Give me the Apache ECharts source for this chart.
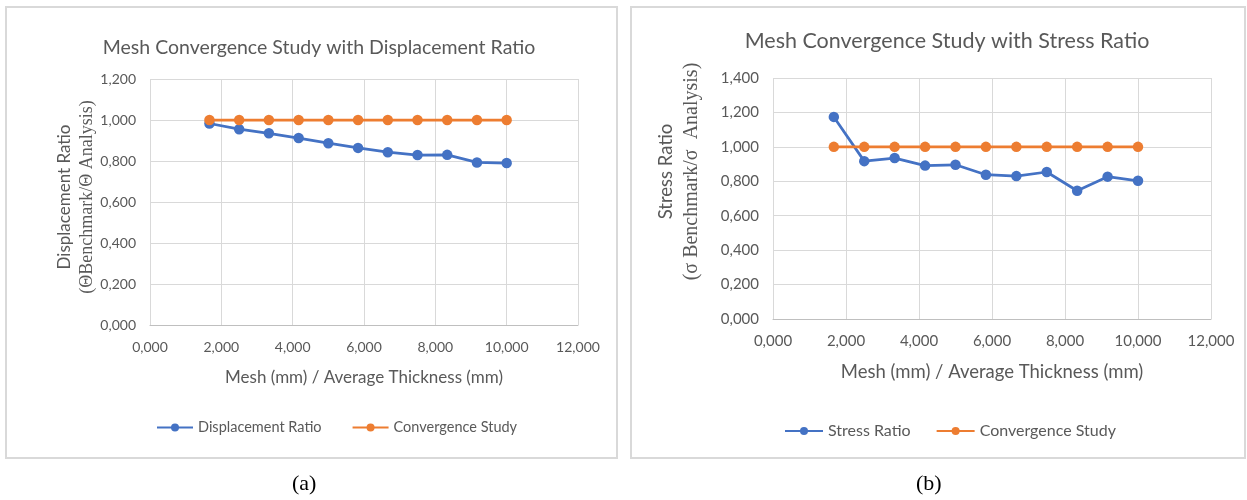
<!DOCTYPE html>
<html>
<head>
<meta charset="utf-8">
<script src="https://cdn.jsdelivr.net/npm/echarts@6/dist/echarts.min.js"></script>
<style>
html,body{margin:0;padding:0;background:#fff;}
#c{width:1247px;height:500px;}
</style>
</head>
<body>
<div id="c"></div>
<script>
// ---- data ----
var meshRatio = [1.667, 2.5, 3.333, 4.167, 5, 5.833, 6.667, 7.5, 8.333, 9.167, 10];
var displacementRatio = [0.983, 0.955, 0.935, 0.912, 0.887, 0.864, 0.843, 0.829, 0.830, 0.793, 0.790];
var stressRatio = [1.174, 0.917, 0.935, 0.891, 0.896, 0.838, 0.830, 0.854, 0.745, 0.827, 0.803];
var convergenceStudy = [1, 1, 1, 1, 1, 1, 1, 1, 1, 1, 1];
var xTicks = [0, 2, 4, 6, 8, 10, 12];
var yTicksA = [0, 0.2, 0.4, 0.6, 0.8, 1.0, 1.2];
var yTicksB = [0, 0.2, 0.4, 0.6, 0.8, 1.0, 1.2, 1.4];

function fmt(v){ return v.toFixed(3).replace('.', ','); }
function pairs(xs, ys){ return xs.map(function(x,i){ return [x, ys[i]]; }); }

var BLUE = '#4472C4', ORANGE = '#ED7D31', TXT = '#595959', GRID = '#d9d9d9';
var SANS = 'Lato, "Open Sans", sans-serif';
var SERIF = '"Liberation Serif", "DejaVu Serif", serif';

function xAxisCfg(gi, fs, nfs, gap){
  return {
    type:'value', gridIndex:gi, min:xTicks[0], max:xTicks[xTicks.length-1], interval:xTicks[1]-xTicks[0],
    name:'Mesh (mm) / Average Thickness (mm)', nameLocation:'middle', nameGap:gap,
    nameTextStyle:{color:TXT, fontSize:nfs, fontFamily:SANS},
    axisLine:{show:true, lineStyle:{color:'#bfbfbf', width:1}},
    axisTick:{show:false},
    axisLabel:{color:TXT, fontSize:fs, fontFamily:SANS, margin:15, formatter:fmt},
    splitLine:{show:true, lineStyle:{color:GRID, width:1}}
  };
}
function yAxisCfg(gi, ticks, l1, l2, gap, pad, fs, fa, fb, lh){
  return {
    type:'value', gridIndex:gi, min:ticks[0], max:ticks[ticks.length-1], interval:ticks[1]-ticks[0],
    name:'{a|' + l1 + '}\n{b|' + l2 + '}', nameLocation:'middle', nameGap:gap,
    nameTextStyle:{color:TXT, padding:pad, rich:{
      a:{fontFamily:SANS, fontSize:fa, color:TXT, lineHeight:lh},
      b:{fontFamily:SERIF, fontSize:fb, color:TXT, lineHeight:lh}
    }},
    axisLine:{show:false}, axisTick:{show:false},
    axisLabel:{color:TXT, fontSize:fs, fontFamily:SANS, margin:14, formatter:fmt},
    splitLine:{show:true, lineStyle:{color:GRID, width:1}}
  };
}
function lineSeries(name, gi, xs, ys, color){
  return {
    type:'line', name:name, xAxisIndex:gi, yAxisIndex:gi, data:pairs(xs, ys),
    symbol:'circle', symbolSize:10.5, itemStyle:{color:color},
    lineStyle:{color:color, width:2.75}, emphasis:{disabled:true}, animation:false
  };
}

var chart = echarts.init(document.getElementById('c'), null, {renderer:'canvas'});
chart.setOption({
  backgroundColor:'#fff',
  animation:false,
  title:[
    {text:'Mesh Convergence Study with Displacement Ratio', left:314, top:33, textAlign:'center',
     textStyle:{color:TXT, fontSize:19.5, fontWeight:'normal', fontFamily:SANS}},
    {text:'Mesh Convergence Study with Stress Ratio', left:942, top:25, textAlign:'center',
     textStyle:{color:TXT, fontSize:21.5, fontWeight:'normal', fontFamily:SANS}}
  ],
  legend:[
    {data:['Displacement Ratio','Convergence Study'], left:151, top:415, itemWidth:36, itemHeight:10, itemGap:30,
     textStyle:{color:TXT, fontSize:14.5, fontFamily:SANS}},
    {data:['Stress Ratio','Convergence Study '], left:779, top:418, itemWidth:38, itemHeight:10, itemGap:25,
     textStyle:{color:TXT, fontSize:16, fontFamily:SANS}}
  ],
  grid:[
    {left:150, top:79, width:428, height:246},
    {left:773, top:78, width:438, height:241}
  ],
  xAxis:[xAxisCfg(0, 14, 17, 44), xAxisCfg(1, 15, 18.5, 44)],
  yAxis:[
    yAxisCfg(0, yTicksA, 'Displacement Ratio', '(\u0398Benchmark/\u0398 Analysis)', 52, [0,0,0,10], 14, 17, 18, 22),
    yAxisCfg(1, yTicksB, 'Stress Ratio', '(\u03c3 Benchmark/\u03c3  Analysis)', 68, [0,0,0,54], 15, 18.5, 20, 26)
  ],
  series:[
    lineSeries('Displacement Ratio', 0, meshRatio, displacementRatio, BLUE),
    lineSeries('Convergence Study', 0, meshRatio, convergenceStudy, ORANGE),
    lineSeries('Stress Ratio', 1, meshRatio, stressRatio, BLUE),
    lineSeries('Convergence Study ', 1, meshRatio, convergenceStudy, ORANGE)
  ],
  graphic:[
    {type:'rect', shape:{x:6, y:7, width:611, height:451}, style:{fill:'none', stroke:'#d9d9d9', lineWidth:2}, silent:true, z:-1},
    {type:'rect', shape:{x:631, y:7, width:614, height:451}, style:{fill:'none', stroke:'#d9d9d9', lineWidth:2}, silent:true, z:-1},
    {type:'text', left:292, top:473, style:{text:'(a)', fontFamily:SERIF, fontSize:22, fill:'#000'}},
    {type:'text', left:916, top:473, style:{text:'(b)', fontFamily:SERIF, fontSize:22, fill:'#000'}}
  ]
});
</script>
</body>
</html>
